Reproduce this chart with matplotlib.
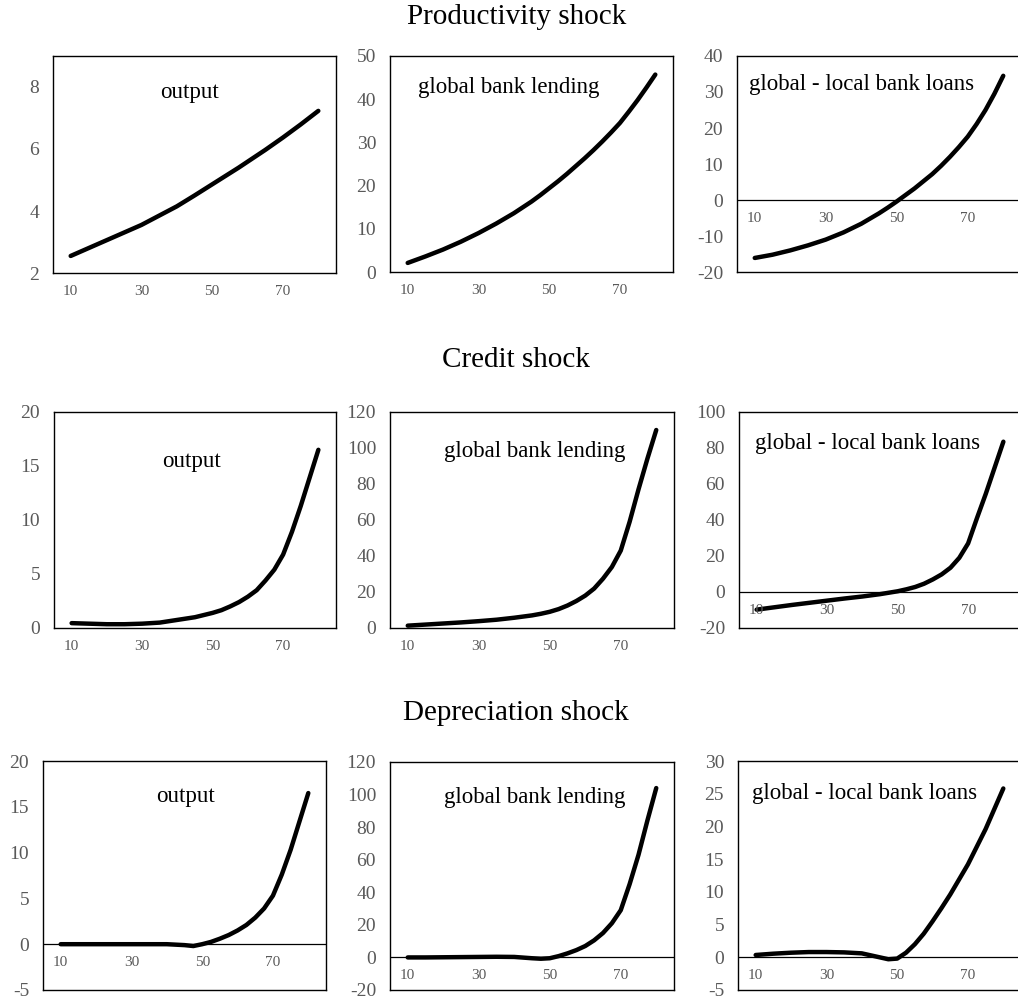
import matplotlib
matplotlib.use('Agg')
from matplotlib import pyplot as plt

plt.rcParams['font.family'] = 'Liberation Serif'
plt.rcParams['axes.unicode_minus'] = False

# horizon (periods) shared by every panel
periods = [10, 15, 20, 25, 30, 35, 40, 45, 47.5, 50, 52.5, 55, 57.5, 60,
           62.5, 65, 67.5, 70, 72.5, 75, 77.5, 80]
x_ticks = [10, 30, 50, 70]

shock_titles = ['Productivity shock', 'Credit shock', 'Depreciation shock']
panel_names = ['output', 'global bank lending', 'global - local bank loans']

# Productivity shock
prod_output = [2.55, 2.8, 3.05, 3.3, 3.55, 3.85, 4.15, 4.5, 4.68, 4.86, 5.04,
               5.22, 5.4, 5.59, 5.78, 5.97, 6.17, 6.37, 6.58, 6.79, 7.01, 7.23]
prod_lending = [2.1, 3.6, 5.2, 7.0, 9.0, 11.2, 13.6, 16.3, 17.8, 19.4, 21.0,
                22.7, 24.5, 26.3, 28.2, 30.2, 32.3, 34.5, 37.1, 39.8, 42.7, 45.7]
prod_gap = [-16.1, -15.2, -14.0, -12.6, -11.0, -9.0, -6.6, -3.7, -2.1, -0.4, 1.4,
            3.2, 5.2, 7.2, 9.5, 12.0, 14.7, 17.6, 21.1, 25.0, 29.5, 34.5]

# Credit shock
credit_output = [0.45, 0.4, 0.35, 0.35, 0.4, 0.5, 0.75, 1.0, 1.2, 1.4, 1.65,
                 2.0, 2.4, 2.9, 3.5, 4.4, 5.4, 6.8, 8.9, 11.3, 13.9, 16.5]
credit_lending = [1.3, 1.9, 2.5, 3.1, 3.8, 4.6, 5.7, 7.0, 7.9, 9.0, 10.5,
                  12.5, 15.0, 18.0, 21.9, 27.4, 33.9, 43.0, 59.0, 77.0, 94.0, 110.0]
credit_gap = [-9.8, -8.5, -7.2, -6.0, -4.8, -3.6, -2.5, -1.2, -0.4, 0.4, 1.5,
              2.8, 4.6, 7.0, 9.8, 13.5, 19.0, 27.0, 41.0, 54.5, 69.0, 83.5]

# Depreciation shock
dep_output = [0.0, 0.0, 0.0, 0.0, 0.0, 0.0, 0.0, -0.1, -0.2, 0.0, 0.25,
              0.6, 1.0, 1.5, 2.1, 2.9, 3.9, 5.3, 7.6, 10.3, 13.4, 16.5]
dep_lending = [0.0, 0.0, 0.1, 0.2, 0.3, 0.4, 0.3, -0.5, -0.8, -0.5, 0.8,
               2.5, 4.5, 7.0, 10.5, 15.0, 21.0, 29.0, 45.0, 63.0, 84.0, 104.0]
dep_gap = [0.35, 0.55, 0.7, 0.8, 0.8, 0.75, 0.6, 0.0, -0.3, -0.2, 0.7,
           2.0, 3.6, 5.5, 7.5, 9.6, 11.9, 14.2, 16.9, 19.6, 22.7, 25.8]

series = [[prod_output, prod_lending, prod_gap],
          [credit_output, credit_lending, credit_gap],
          [dep_output, dep_lending, dep_gap]]

# y axis (min, max, step) for each panel
y_axes = [[(2, 9, 2), (0, 50, 10), (-20, 40, 10)],
          [(0, 20, 5), (0, 120, 20), (-20, 100, 20)],
          [(-5, 20, 5), (-20, 120, 20), (-5, 30, 5)]]

# panel boxes in pixels: left, top, right, bottom
boxes = [[(53, 56, 336, 273), (390, 56, 673, 272), (737, 56, 1021, 272)],
         [(54, 412, 336, 628), (390, 412, 674, 628), (739, 412, 1021, 628)],
         [(43, 761, 326, 990), (390, 762, 674, 990), (738, 761, 1021, 990)]]

# label position inside each panel (axes fraction)
label_pos = [[(0.484, 0.834), (0.42, 0.852), (0.438, 0.866)],
             [(0.486, 0.773), (0.51, 0.815), (0.456, 0.856)],
             [(0.502, 0.843), (0.51, 0.846), (0.447, 0.86)]]

title_y = [17, 360, 713]

W, H = 1018, 1002
fig = plt.figure(figsize=(W / 100, H / 100), dpi=100)

for r in range(3):
    fig.text(0.507, 1 - title_y[r] / H, shock_titles[r], fontsize=21,
             ha='center', va='center')
    for c in range(3):
        l, t, rt, b = boxes[r][c]
        ax = fig.add_axes([l / W, 1 - b / H, (rt - l) / W, (b - t) / H])
        ymin, ymax, step = y_axes[r][c]

        ax.plot(periods, series[r][c], color='black', lw=3.2,
                solid_capstyle='round', solid_joinstyle='round')
        if ymin < 0:
            ax.axhline(0, color='black', lw=0.9, zorder=1)

        ax.set_xlim(5, 85)
        ax.set_ylim(ymin, ymax)
        ax.set_yticks(list(range(ymin, ymax + 1, step)))
        ax.set_xticks([])
        ax.tick_params(axis='y', length=0, pad=10, labelsize=14,
                       labelcolor='#595959')
        for s in ax.spines.values():
            s.set_linewidth(1.0)
            s.set_color('black')

        # category labels sit just under the horizontal axis
        base = 0 if ymin < 0 else ymin
        for xt in x_ticks:
            ax.annotate(str(xt), (xt, base), xytext=(0, -8.5),
                        textcoords='offset points', ha='center', va='top',
                        fontsize=11, color='#595959', annotation_clip=False)

        lx, ly = label_pos[r][c]
        ax.text(lx, ly, panel_names[c], transform=ax.transAxes,
                fontsize=16.5, ha='center', va='center')

fig.savefig('out.png', dpi=100)
